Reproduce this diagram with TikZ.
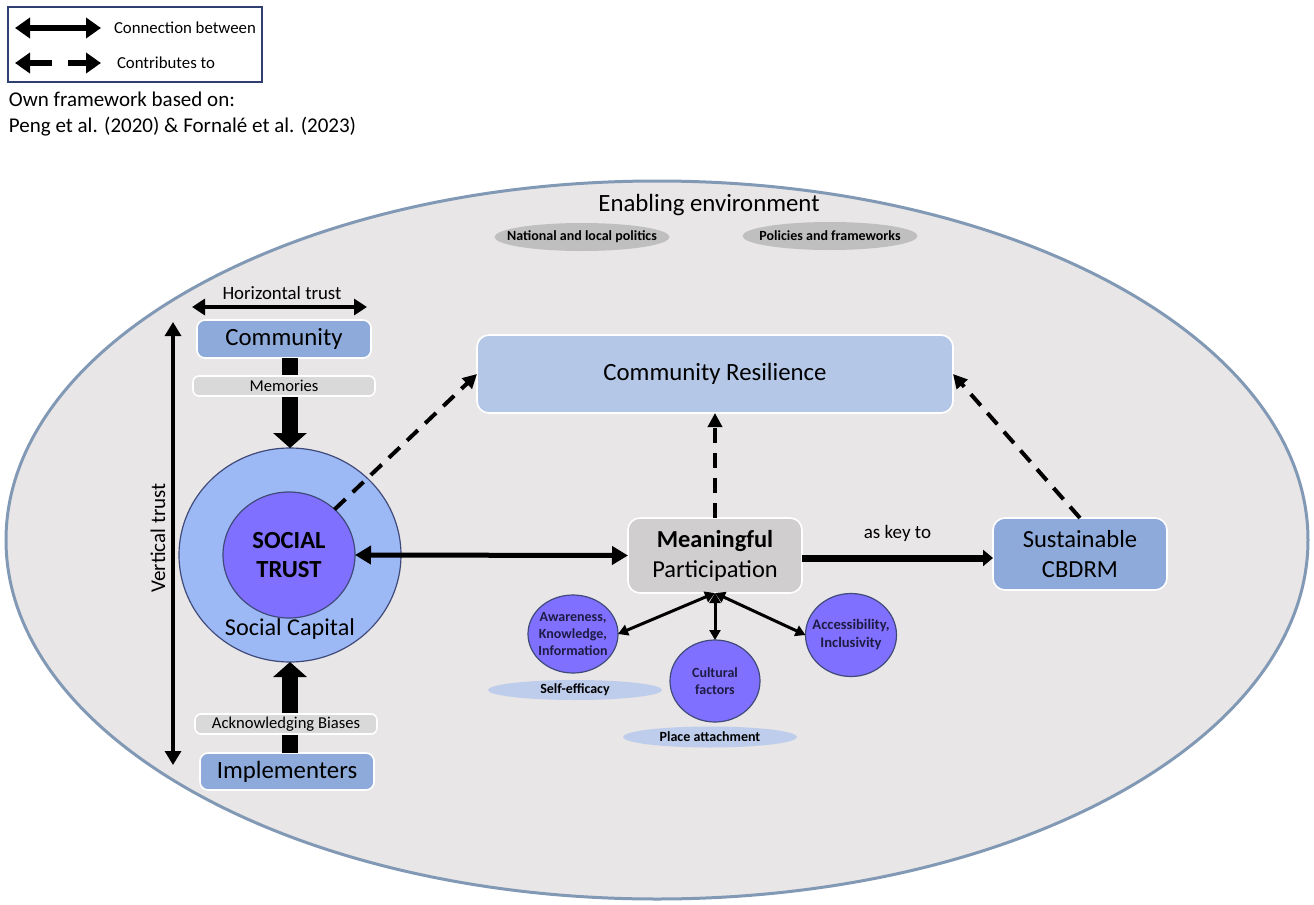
\documentclass[tikz,border=0pt]{standalone}
\usepackage{fontspec}
\setmainfont{Carlito}
\usetikzlibrary{arrows.meta,shapes.geometric}

\definecolor{envfill}{HTML}{E8E6E6}
\definecolor{envline}{HTML}{8199B5}
\definecolor{actorblue}{HTML}{8EAADB}
\definecolor{resblue}{HTML}{B4C7E7}
\definecolor{labelgray}{HTML}{D9D9D9}
\definecolor{mpgray}{HTML}{D0CECE}
\definecolor{capblue}{HTML}{9DB9F5}
\definecolor{trustpurple}{HTML}{8070FF}
\definecolor{circline}{HTML}{3F4A7A}
\definecolor{polgray}{HTML}{BFBFBF}
\definecolor{softblue}{HTML}{BDCDEB}
\definecolor{legendline}{HTML}{2F3F6F}
\definecolor{factortext}{HTML}{1C1C44}

\begin{document}
\begin{tikzpicture}[x=0.5pt,y=-0.5pt,
  every node/.style={inner sep=0pt, outer sep=0pt, text=black},
  actor/.style={rectangle, rounded corners=4pt, draw=white, line width=0.8pt,
    fill=actorblue, align=center, font=\fontsize{12.4}{15}\selectfont},
  hint/.style={rectangle, rounded corners=3pt, draw=white, line width=0.8pt,
    fill=labelgray, font=\fontsize{8.3}{10}\selectfont},
  factor/.style={ellipse, draw=circline, line width=0.6pt, fill=trustpurple},
  factortxt/.style={align=center, text=factortext, font=\bfseries\fontsize{7}{8.5}\selectfont},
  tag/.style={ellipse},
  tagtxt/.style={font=\bfseries\fontsize{7}{8}\selectfont},
  heavy/.style={line width=8pt, -{Triangle[width=16.5pt,length=7.5pt]}},
  link/.style={line width=2.5pt, {Triangle[width=9pt,length=8pt]}-{Triangle[width=9pt,length=8pt]}},
  trustarrow/.style={line width=2pt, {Triangle[width=8pt,length=6.5pt]}-{Triangle[width=8pt,length=6.5pt]}},
  factorlink/.style={line width=1.5pt, {Triangle[width=5.5pt,length=5pt]}-{Triangle[width=5.5pt,length=5pt]}},
  contrib/.style={line width=2pt, dash pattern=on 7.5pt off 5pt, -{Triangle[width=7pt,length=7pt]}},
  keyarrow/.style={line width=3.5pt, -{Triangle[width=8pt,length=5pt]}},
  legendlink/.style={line width=3pt, {Triangle[width=10pt,length=7.5pt]}-{Triangle[width=10pt,length=7.5pt]}},
  legendhalf/.style={line width=3pt, -{Triangle[width=10pt,length=7.5pt]}},
]
\useasboundingbox (0,0) rectangle (1314,905);

% ---------- legend ----------
\node[draw=legendline, line width=0.8pt, rectangle, minimum width=127pt, minimum height=37.5pt] (legend) at (135,44.5) {};
\coordinate (l1a) at (15,28);
\coordinate (l1b) at (101,28);
\draw[legendlink] (l1a) -- (l1b);
\node[anchor=west, font=\fontsize{8.4}{10}\selectfont] (l1t) at (114,28) {Connection between};
\coordinate (l2a) at (52,63);
\coordinate (l2b) at (15,63);
\coordinate (l2c) at (68,63);
\coordinate (l2d) at (101,63);
\draw[legendhalf] (l2a) -- (l2b);
\draw[legendhalf] (l2c) -- (l2d);
\node[anchor=west, font=\fontsize{8.4}{10}\selectfont] (l2t) at (117,63) {Contributes to};
\node[anchor=base west, font=\fontsize{10.5}{13}\selectfont] (src1) at (9,106) {Own framework based on:};
\node[anchor=base west, font=\fontsize{10.5}{13}\selectfont] (src2) at (9,132) {Peng et al. (2020) \& Fornalé et al. (2023)};

% ---------- enabling environment ----------
\draw[fill=envfill, draw=envline, line width=1.5pt] (657,540) ellipse [x radius=325.5pt, y radius=179.5pt];
\node[font=\fontsize{12.4}{15}\selectfont] (env) at (709,205) {Enabling environment};
\node[tag, fill=polgray, minimum width=87.5pt, minimum height=14pt] (pol) at (582,237) {};
\node[tagtxt] (poltxt) at (pol) {National and local politics};
\node[tag, fill=polgray, minimum width=87.5pt, minimum height=14pt] (frm) at (830,236) {};
\node[tagtxt] (frmtxt) at (frm) {Policies and frameworks};

% ---------- social capital and trust ----------
\node[actor, minimum width=87pt, minimum height=19pt] (comm) at (284,339) {Community};
\node[ellipse, draw=circline, line width=0.6pt, fill=capblue, minimum width=111pt, minimum height=107pt] (cap) at (290,555) {};
\node[ellipse, draw=circline, line width=0.6pt, fill=trustpurple, minimum width=66pt, minimum height=63pt,
  align=center, font=\bfseries\fontsize{12.3}{14.5}\selectfont] (trust) at (289,555) {SOCIAL\\TRUST};
\node[font=\fontsize{12.1}{14}\selectfont] (captext) at (290,629) {Social Capital};
\node[actor, minimum width=87pt, minimum height=18.5pt] (impl) at (287,771.5) {Implementers};

\draw[heavy] (cap.north |- comm.south) -- (cap.north);
\draw[heavy] (cap.south |- impl.north) -- (cap.south);
\node[hint, minimum width=91pt, minimum height=10pt] (mem) at (284,386) {Memories};
\node[hint, minimum width=91pt, minimum height=10pt] (ack) at (286,724) {Acknowledging Biases};

% horizontal and vertical trust
\coordinate (h1) at (192,307);
\coordinate (h2) at (367,307);
\draw[trustarrow] (h1) -- (h2);
\node[font=\fontsize{9.4}{11}\selectfont] (htext) at (282,293) {Horizontal trust};
\coordinate (v1) at (173,322);
\coordinate (v2) at (173,765);
\draw[line width=1.6pt, {Triangle[width=8pt,length=7pt]}-{Triangle[width=8pt,length=7pt]}] (v1) -- (v2);
\node[rotate=90, font=\fontsize{10.5}{12}\selectfont] (vtext) at (158,538) {Vertical trust};

% ---------- right part ----------
\node[rectangle, rounded corners=6pt, draw=white, line width=0.8pt, fill=resblue,
  minimum width=238pt, minimum height=39pt, font=\fontsize{12.4}{15}\selectfont] (res) at (715,374) {Community Resilience};
\node[rectangle, rounded corners=6pt, draw=white, line width=0.8pt, fill=mpgray,
  minimum width=87pt, minimum height=37.5pt, align=center, font=\fontsize{12.2}{15}\selectfont] (mp) at (715,555.5)
  {\textbf{Meaningful}\\Participation};
\node[actor, rounded corners=6pt, minimum width=87pt, minimum height=36pt, font=\fontsize{12.3}{15}\selectfont] (sust) at (1080,554)
  {Sustainable\\CBDRM};

\draw[link] (trust.east) -- (mp.west);
\draw[keyarrow] (mp.east |- 0,558) -- node[above=8pt, font=\fontsize{9.5}{11}\selectfont] (keytext) {as key to} (sust.west |- 0,558);

\draw[contrib] (trust.45) -- (res.west);
\draw[contrib] (mp.north) -- (res.south);
\draw[contrib] (sust.north) -- (res.east);

% participation factors
\node[tag, fill=softblue, minimum width=87pt, minimum height=10pt] (selfeff) at (575,690) {};
\node[tagtxt] (selfefftxt) at (selfeff) {Self-efficacy};
\node[tag, fill=softblue, minimum width=87pt, minimum height=10.5pt] (place) at (710,737) {};
\node[tagtxt] (placetxt) at (place) {Place attachment};
\node[factor, minimum width=45pt, minimum height=39pt] (aware) at (573,634) {};
\node[factortxt] (awaretxt) at (aware) {Awareness,\\Knowledge,\\Information};
\node[factor, minimum width=45pt, minimum height=41pt] (cult) at (715,681) {};
\node[factortxt] (culttxt) at (cult) {Cultural\\factors};
\node[factor, minimum width=45.5pt, minimum height=41.5pt] (access) at (851,635) {};
\node[factortxt, font=\bfseries\fontsize{7.3}{9}\selectfont] (accesstxt) at (access) {Accessibility,\\Inclusivity};

\draw[factorlink] (mp.south) -- (aware.east);
\draw[factorlink] (mp.south) -- (cult.north);
\draw[factorlink] (mp.south) -- (access.west);
\end{tikzpicture}
\end{document}
